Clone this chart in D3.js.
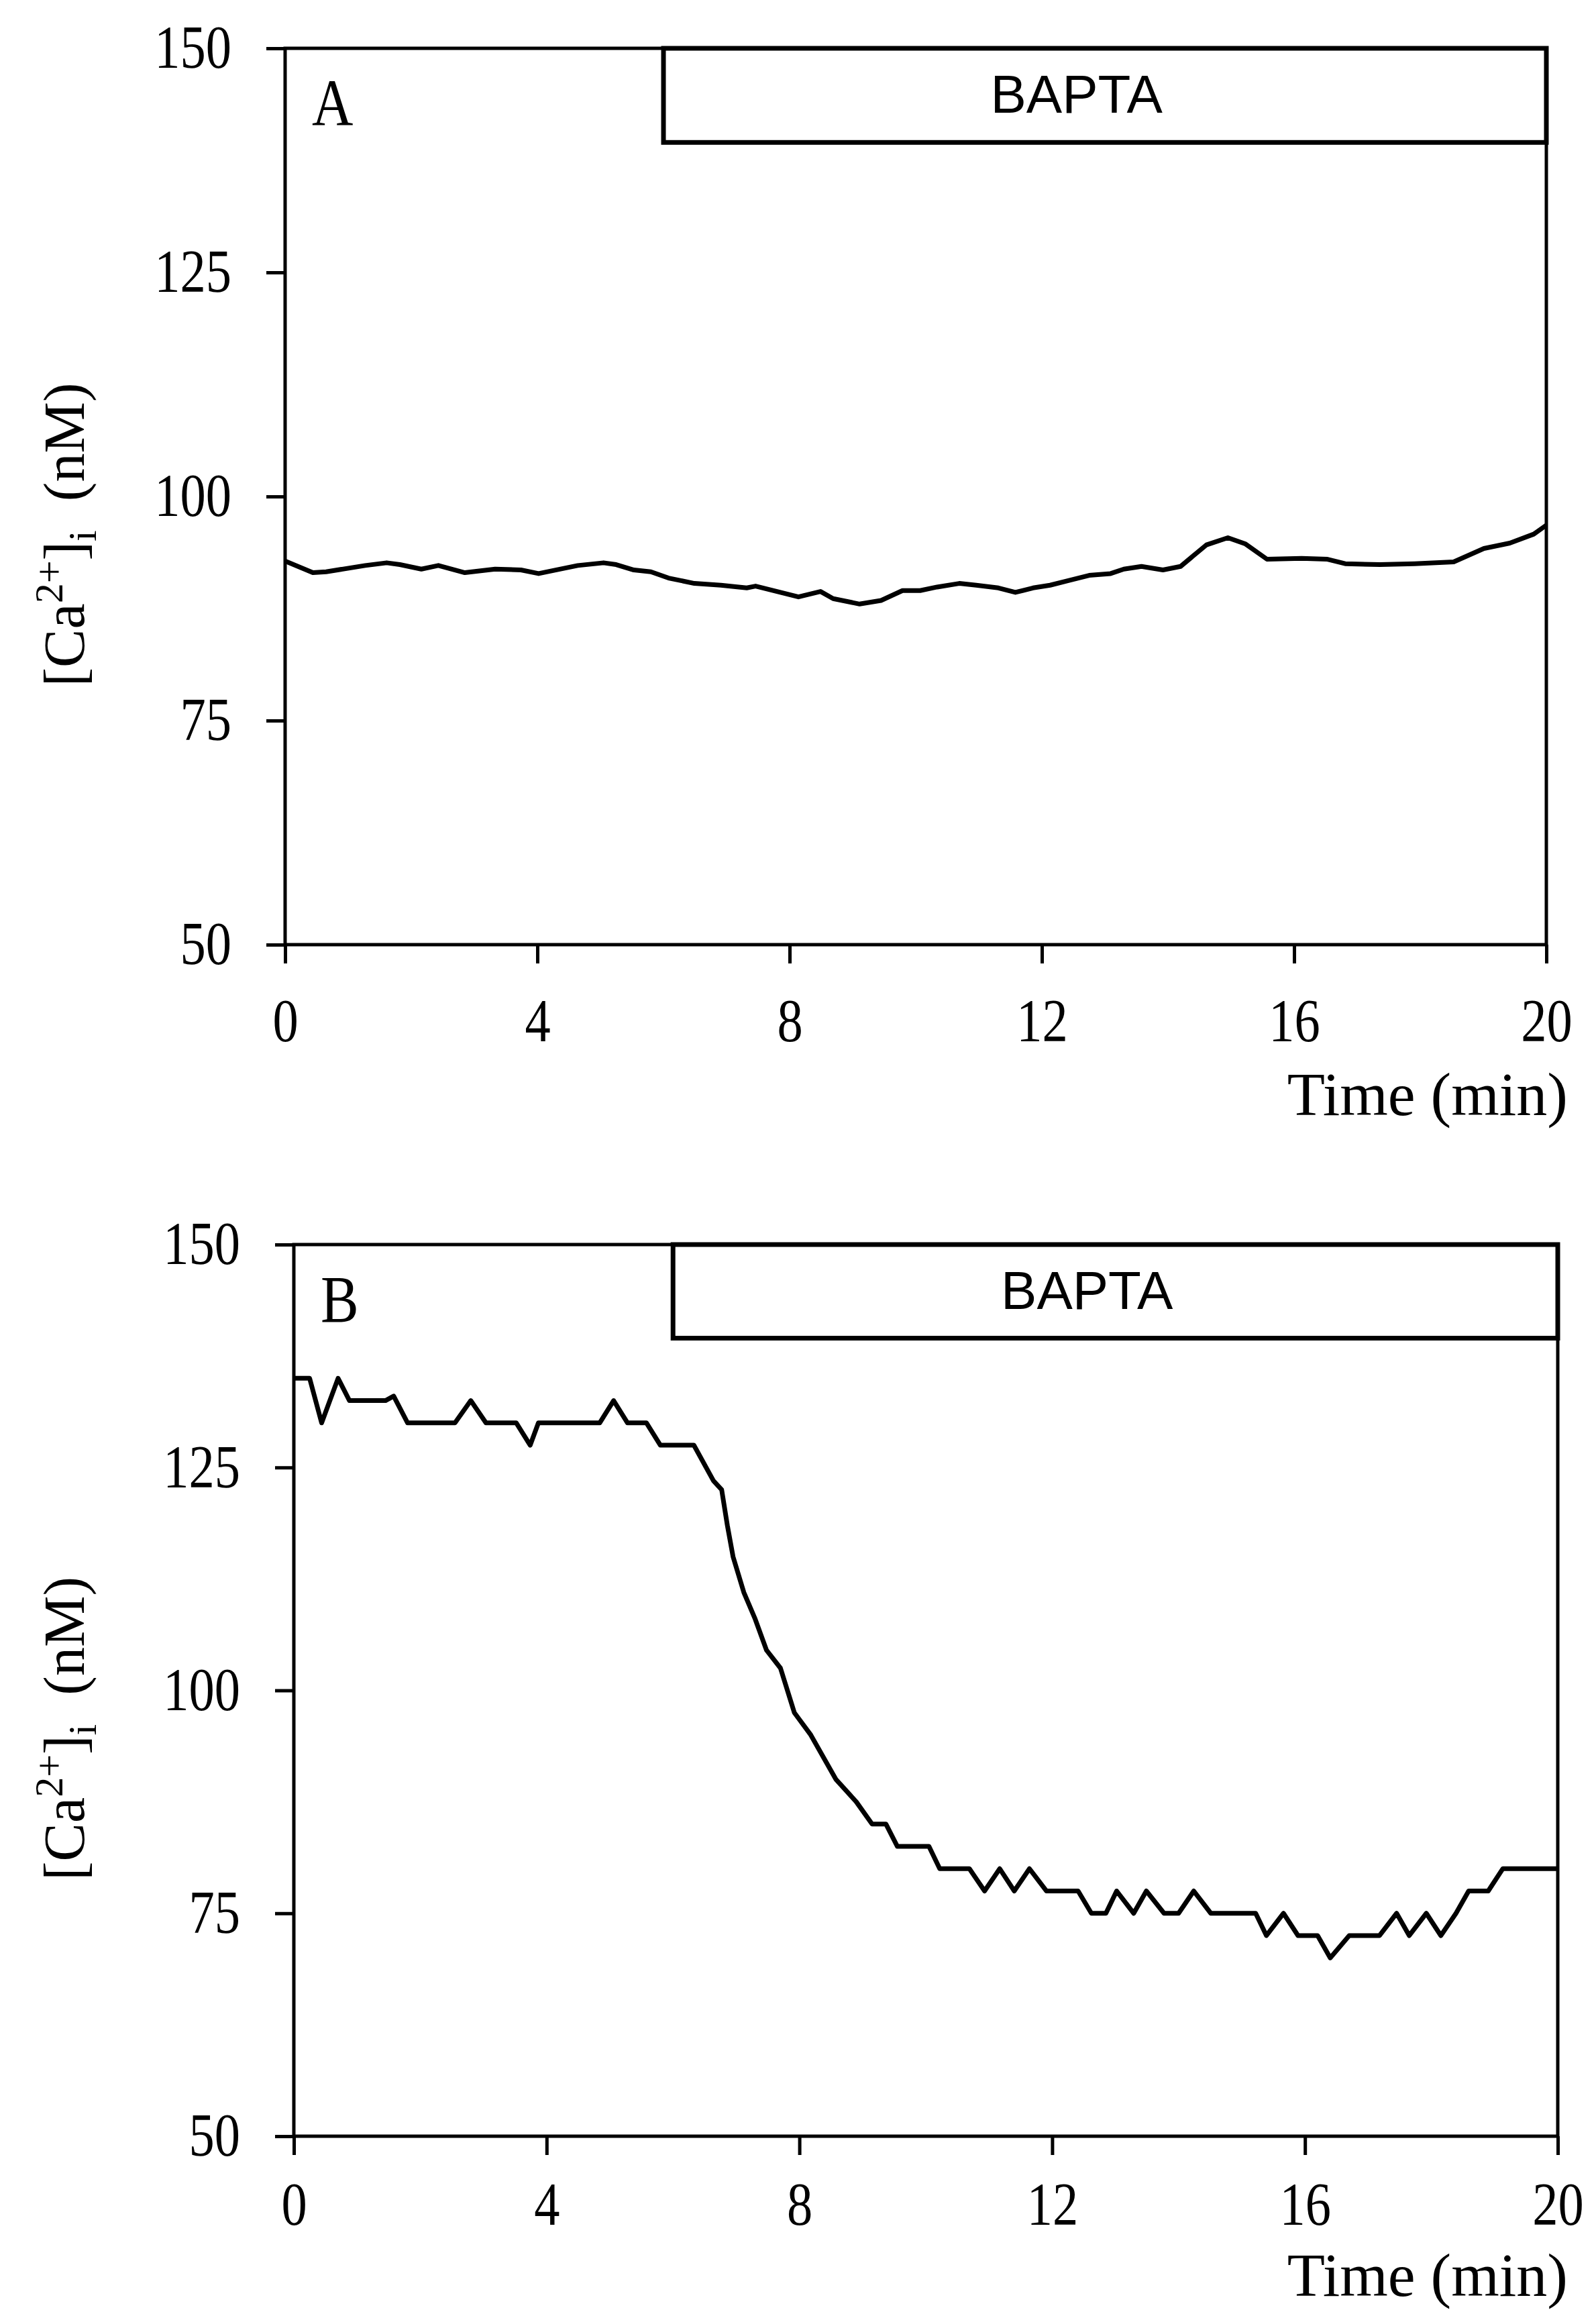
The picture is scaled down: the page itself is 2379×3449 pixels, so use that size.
<!DOCTYPE html>
<html>
<head>
<meta charset="utf-8">
<script src="https://cdn.jsdelivr.net/npm/d3@7"></script>
<style>
  body { margin: 0; background: #fff; }
  svg { display: block; }
</style>
</head>
<body>
<svg width="2379" height="3449"></svg>
<script>
// time axis and [Ca2+]i axis
const xTicks = [0, 4, 8, 12, 16, 20];
const yTicks = [50, 75, 100, 125, 150];
const baptaStart = 6, baptaEnd = 20, baptaLow = 139.5;

// panel A trace (min, nM)
const timeA = [0, 0.44, 0.65, 1.27, 1.61, 1.82, 2.16, 2.43, 2.85, 3.33,
  3.74, 4.02, 4.29, 4.64, 5.05, 5.25, 5.53, 5.80, 6.08, 6.49,
  6.91, 7.32, 7.46, 7.80, 8.14, 8.49, 8.69, 9.11, 9.45, 9.79,
  10.07, 10.34, 10.69, 10.96, 11.31, 11.58, 11.86, 12.13, 12.41, 12.75,
  13.09, 13.30, 13.58, 13.92, 14.20, 14.61, 14.95, 15.23, 15.57, 16.12,
  16.53, 16.81, 17.36, 17.91, 18.53, 19.01, 19.42, 19.8, 20];
const caA = [92.8, 91.5, 91.6, 92.3, 92.6, 92.4, 91.9, 92.3, 91.5, 91.9,
  91.8, 91.4, 91.8, 92.3, 92.6, 92.4, 91.8, 91.6, 90.9, 90.3,
  90.1, 89.8, 90.0, 89.4, 88.8, 89.4, 88.6, 88.0, 88.4, 89.5,
  89.5, 89.9, 90.3, 90.1, 89.8, 89.3, 89.8, 90.1, 90.6, 91.2,
  91.4, 91.9, 92.2, 91.8, 92.2, 94.6, 95.4, 94.7, 93.0, 93.1,
  93.0, 92.5, 92.4, 92.5, 92.7, 94.2, 94.8, 95.8, 96.8];

// panel B trace (min, nM)
const timeB = [0, 0.25, 0.44, 0.70, 0.88, 1.45, 1.58, 1.80, 2.55, 2.80,
  3.04, 3.52, 3.74, 3.87, 4.84, 5.06, 5.28, 5.58, 5.80, 6.33,
  6.64, 6.77, 6.86, 6.95, 7.12, 7.30, 7.48, 7.70, 7.92, 8.18,
  8.58, 8.90, 9.15, 9.37, 9.55, 10.05, 10.22, 10.69, 10.93, 11.17,
  11.40, 11.64, 11.91, 12.41, 12.62, 12.85, 13.02, 13.29, 13.49, 13.77,
  14.00, 14.24, 14.51, 15.22, 15.39, 15.66, 15.89, 16.20, 16.40, 16.70,
  17.18, 17.45, 17.65, 17.92, 18.15, 18.39, 18.59, 18.90, 19.13, 20];
const caB = [135, 135, 130, 135, 132.5, 132.5, 133, 130, 130, 132.5,
  130, 130, 127.5, 130, 130, 132.5, 130, 130, 127.5, 127.5,
  123.5, 122.5, 118.5, 115, 111, 108, 104.5, 102.5, 97.5, 95,
  90, 87.5, 85, 85, 82.5, 82.5, 80, 80, 77.5, 80,
  77.5, 80, 77.5, 77.5, 75, 75, 77.5, 75, 77.5, 75,
  75, 77.5, 75, 75, 72.5, 75, 72.5, 72.5, 70, 72.5,
  72.5, 75, 72.5, 75, 72.5, 75, 77.5, 77.5, 80, 80];

const svg = d3.select("svg");
const serif = "Liberation Serif, Times New Roman, serif";
const squeeze = 0.85;

const panels = [
  { label: "A", left: 425, right: 2305, top: 72, bottom: 1408, xPad: 52, titleOff: 254, times: timeA, values: caA },
  { label: "B", left: 438, right: 2322, top: 1855, bottom: 3184, xPad: 40, titleOff: 238, times: timeB, values: caB }
];

panels.forEach(drawPanel);

function drawPanel(p) {
  const x = d3.scaleLinear().domain([0, 20]).range([p.left, p.right]);
  const y = d3.scaleLinear().domain([50, 150]).range([p.bottom, p.top]);
  const g = svg.append("g");

  // axes with outward ticks, domain replaced by the frame below
  const yAxis = g.append("g")
    .attr("transform", "translate(" + x(0) + ",0)")
    .call(d3.axisLeft(y).tickValues(yTicks).tickSize(28).tickPadding(66).tickSizeOuter(0));
  const xAxis = g.append("g")
    .attr("transform", "translate(0," + y(50) + ")")
    .call(d3.axisBottom(x).tickValues(xTicks).tickSize(28).tickPadding(p.xPad).tickSizeOuter(0));

  [yAxis, xAxis].forEach((a) => {
    a.select(".domain").remove();
    a.selectAll(".tick line").attr("stroke", "#000").attr("stroke-width", 5);
    a.selectAll(".tick text")
      .attr("fill", "#000")
      .style("font-family", serif)
      .style("font-size", "90px")
      .attr("transform", "scale(" + squeeze + ",1)");
  });

  // frame
  g.append("rect")
    .attr("x", x(0)).attr("y", y(150))
    .attr("width", x(20) - x(0)).attr("height", y(50) - y(150))
    .attr("fill", "none").attr("stroke", "#000").attr("stroke-width", 5);

  // BAPTA bar
  g.append("rect")
    .attr("x", x(baptaStart)).attr("y", y(150))
    .attr("width", x(baptaEnd) - x(baptaStart)).attr("height", y(baptaLow) - y(150))
    .attr("fill", "none").attr("stroke", "#000").attr("stroke-width", 7);
  g.append("text")
    .attr("x", x(12.55)).attr("y", y(150) + 96)
    .attr("text-anchor", "middle")
    .style("font-family", "Liberation Sans, Arial, sans-serif")
    .style("font-size", "80px")
    .text("BAPTA");

  // trace
  const line = d3.line()
    .x((d) => x(d[0]))
    .y((d) => y(d[1]));
  g.append("path")
    .datum(d3.zip(p.times, p.values))
    .attr("d", line)
    .attr("fill", "none")
    .attr("stroke", "#000")
    .attr("stroke-width", 7)
    .attr("stroke-linejoin", "round");

  // panel letter
  g.append("text")
    .attr("transform", "translate(" + (x(0) + 40) + "," + (y(150) + 115) + ") scale(" + squeeze + ",1)")
    .style("font-family", serif)
    .style("font-size", "100px")
    .text(p.label);

  // x title
  g.append("text")
    .attr("x", 2337).attr("y", y(50) + p.titleOff)
    .attr("text-anchor", "end")
    .style("font-family", serif)
    .style("font-size", "92px")
    .text("Time (min)");

  // y title
  const yt = g.append("text")
    .attr("transform", "translate(125," + ((y(150) + y(50)) / 2 + 57) + ") rotate(-90)")
    .attr("text-anchor", "middle")
    .style("font-family", serif)
    .style("font-size", "86px");
  yt.append("tspan").text("[Ca");
  yt.append("tspan").attr("dy", -32).style("font-size", "60px").text("2+");
  yt.append("tspan").attr("dy", 32).text("]");
  yt.append("tspan").attr("dy", 18).style("font-size", "60px").text("i");
  yt.append("tspan").attr("dy", -18).text("\u00a0 (nM)");
}
</script>
</body>
</html>
